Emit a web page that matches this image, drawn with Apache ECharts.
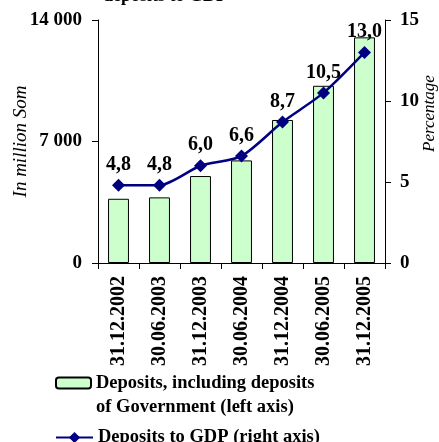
<!DOCTYPE html>
<html>
<head>
<meta charset="utf-8">
<script src="https://cdn.jsdelivr.net/npm/echarts@6/dist/echarts.min.js"></script>
<style>
  html, body { margin: 0; padding: 0; background: #fff; }
  #chart { width: 439px; height: 442px; }
</style>
</head>
<body>
<div id="chart"></div>
<script>
// Reporting dates
const dates = ['31.12.2002', '30.06.2003', '31.12.2003', '30.06.2004', '31.12.2004', '30.06.2005', '31.12.2005'];
// Deposits, including deposits of Government, million Som (left axis)
const deposits = [3700, 3780, 5010, 5910, 8240, 10210, 13000];
// Deposits to GDP, percent (right axis)
const depositsToGdp = [4.8, 4.8, 6.0, 6.6, 8.7, 10.5, 13.0];

const barName = 'Deposits, including deposits\nof Government (left axis)';
const lineName = 'Deposits to GDP (right axis)';

const serif = '"Liberation Serif", "Times New Roman", serif';
const boldText = { fontFamily: serif, fontWeight: 'bold', color: '#000' };

const chart = echarts.init(document.getElementById('chart'), null, { renderer: 'canvas' });

chart.setOption({
  backgroundColor: '#fff',
  animation: false,
  title: {
    text: 'deposits to GDP',
    left: 103,
    top: -13,
    padding: 0,
    textStyle: Object.assign({ fontSize: 18 }, boldText)
  },
  grid: {
    left: 98, right: 54, top: 20, bottom: 179,
    containLabel: false,
    outerBoundsMode: 'none'
  },
  legend: [
    {
      data: [barName],
      orient: 'vertical',
      left: 55,
      top: 347,
      padding: 0,
      itemWidth: 35,
      itemHeight: 11,
      itemGap: 0,
      // a blank leading line keeps the first text line level with the swatch
      formatter: name => '\n' + name,
      textStyle: Object.assign({ fontSize: 18.5, lineHeight: 24 }, boldText)
    },
    {
      data: [lineName],
      orient: 'vertical',
      left: 55,
      top: 428,
      padding: 0,
      itemWidth: 37,
      itemHeight: 14,
      textStyle: Object.assign({ fontSize: 18.5 }, boldText)
    }
  ],
  xAxis: {
    type: 'category',
    data: dates,
    boundaryGap: true,
    axisLine: { lineStyle: { color: '#000', width: 1 } },
    axisTick: { show: true, length: 6, lineStyle: { color: '#000' } },
    axisLabel: Object.assign({ rotate: 90, fontSize: 20, margin: 13, interval: 0 }, boldText)
  },
  yAxis: [
    {
      type: 'value',
      min: 0,
      max: 14000,
      interval: 7000,
      position: 'left',
      name: 'In million Som',
      nameLocation: 'middle',
      nameGap: 68,
      nameRotate: 90,
      nameMoveOverlap: false,
      nameTextStyle: { fontFamily: serif, fontStyle: 'italic', fontSize: 19, color: '#000' },
      axisLine: { show: true, lineStyle: { color: '#000' } },
      axisTick: { show: true, length: 6, lineStyle: { color: '#000' } },
      splitLine: { show: false },
      axisLabel: Object.assign({
        fontSize: 19,
        margin: 16,
        formatter: v => String(v).replace(/\B(?=(\d{3})+(?!\d))/g, ' ')
      }, boldText)
    },
    {
      type: 'value',
      min: 0,
      max: 15,
      interval: 5,
      position: 'right',
      axisLine: { show: true, lineStyle: { color: '#000' } },
      axisTick: { show: true, length: 6, lineStyle: { color: '#000' } },
      splitLine: { show: false },
      axisLabel: Object.assign({ fontSize: 19, margin: 15 }, boldText)
    }
  ],
  graphic: [
    {
      type: 'text',
      x: 421,
      y: 152,
      rotation: Math.PI / 2,
      style: {
        text: 'Percentage',
        font: 'italic 17px ' + serif,
        fill: '#000',
        textAlign: 'left',
        textVerticalAlign: 'top'
      }
    }
  ],
  series: [
    {
      name: barName,
      type: 'bar',
      yAxisIndex: 0,
      data: deposits,
      barWidth: '51%',
      itemStyle: { color: '#ccffcc', borderColor: '#000', borderWidth: 1 }
    },
    {
      name: lineName,
      type: 'line',
      yAxisIndex: 1,
      data: depositsToGdp,
      smooth: 0.25,
      symbol: 'diamond',
      symbolSize: 13,
      lineStyle: { color: '#000080', width: 2.5 },
      itemStyle: { color: '#000080' },
      label: Object.assign({
        show: true,
        position: 'top',
        distance: 4,
        fontSize: 20,
        formatter: p => p.value.toFixed(1).replace('.', ',')
      }, boldText),
      z: 3
    }
  ]
});
</script>
</body>
</html>
